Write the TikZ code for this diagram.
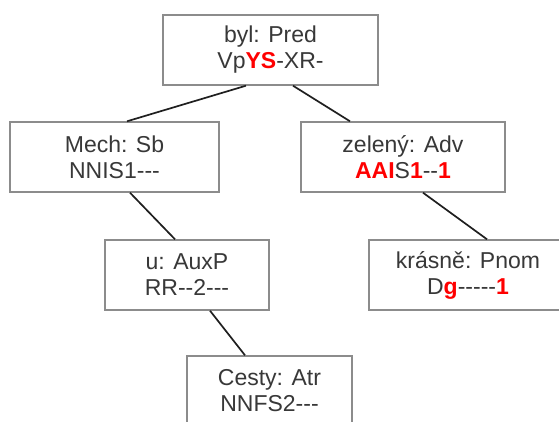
\documentclass[tikz,border=0pt]{standalone}
\usepackage{fontspec}
\setmainfont{Liberation Sans}[Ligatures=TeXOff]
\definecolor{txt}{HTML}{383838}
\definecolor{boxline}{HTML}{8C8C8C}
\definecolor{hl}{HTML}{FF0000}
\newcommand{\hlt}[1]{\textcolor{hl}{\textbf{#1}}}
\begin{document}
\begin{tikzpicture}[x=1pt,y=-1pt,
  tbox/.style={draw=boxline, line width=1.4pt, fill=white, text=txt,
    minimum height=70pt, inner sep=0pt, align=center,
    font=\fontsize{23}{26}\selectfont},
  edge/.style={draw=black!88, line width=1.7pt}]
\useasboundingbox (0,0) rectangle (559,421);
\begin{scope}
\clip (0,0) rectangle (559,421);
\node[tbox, minimum width=215pt] (byl) at (270.5,50) {byl: Pred\\Vp\hlt{YS}-XR-};
\node[tbox, minimum width=209pt] (mech) at (114.5,157) {Mech: Sb\\NNIS1---};
\node[tbox, minimum width=204pt] (zel) at (403,157) {zelený: Adv\\\hlt{AAI}S\hlt{1}--\hlt{1}};
\node[tbox, minimum width=164pt] (u) at (187,275) {u: AuxP\\RR--2---};
\node[tbox, minimum width=198pt] (kras) at (468,275) {krásně: Pnom\\D\hlt{g}-----\hlt{1}};
\node[tbox, minimum width=165pt] (cesty) at (269.5,391) {Cesty: Atr\\NNFS2---};
\draw[edge] ([xshift=-24.5pt]byl.south) -- ([xshift=12.5pt]mech.north);
\draw[edge] ([xshift=22.5pt]byl.south) -- ([xshift=-53pt]zel.north);
\draw[edge] ([xshift=15.5pt]mech.south) -- ([xshift=-12pt]u.north);
\draw[edge] ([xshift=20pt]zel.south) -- ([xshift=19pt]kras.north);
\draw[edge] ([xshift=23pt]u.south) -- ([xshift=-24.5pt]cesty.north);
\end{scope}
\end{tikzpicture}
\end{document}
